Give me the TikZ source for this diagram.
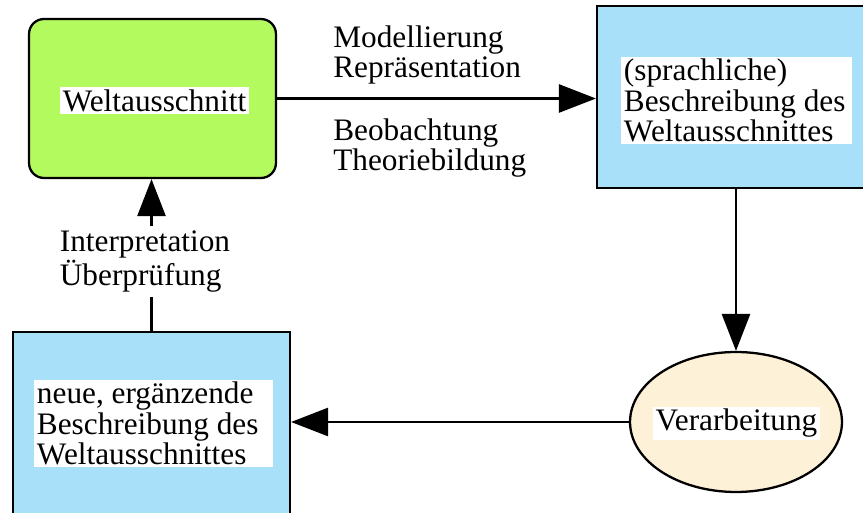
\documentclass[tikz,border=0pt]{standalone}
\usepackage{fontspec}
\setmainfont{Liberation Serif}
\usetikzlibrary{arrows.meta,shapes.geometric}
\definecolor{weltgreen}{RGB}{178,250,94}
\definecolor{beschrblue}{RGB}{168,224,250}
\definecolor{verarbcream}{RGB}{253,242,215}
\tikzset{
  shapebox/.style={draw, line width=1.3pt},
  textbg/.style={fill=white, inner sep=1.5pt, align=flush left},
  flow/.style={-{Triangle[length=21pt,width=16pt]}, line width=1.2pt}
}
\begin{document}
\begin{tikzpicture}[x=0.02cm, y=-0.02cm, font=\fontsize{17.8}{17.2}\selectfont]
        \useasboundingbox (0,0) rectangle (863,513);
        \clip (0,0) rectangle (863,513);
        % shapes
            \node[shapebox, fill=weltgreen, rounded corners=0.3cm, minimum width=4.94cm, minimum height=3.18cm] (welt) at (152.5,98.5) {};
            \node[shapebox, fill=beschrblue, minimum width=6.06cm, minimum height=3.64cm] (beschr) at (748.5,97) {};
            \node[shapebox, fill=beschrblue, minimum width=5.54cm, minimum height=4.56cm] (neu) at (151.5,446) {};
            \node[shapebox, fill=verarbcream, ellipse, minimum width=4.24cm, minimum height=2.8cm] (verarb) at (736,422) {};
        % texts in the shapes
            \node[textbg] (weltlabel) at (154.5,100.5) {Weltausschnitt};
            \node[textbg, anchor=west, text width=4.5cm] (beschrlabel) at (621,100.5) {(sprachliche)\\Beschreibung des\\Weltausschnittes};
            \node[textbg, anchor=west, text width=4.66cm] (neulabel) at (34,423.5) {neue, ergänzende\\Beschreibung des\\Weltausschnittes};
            \node[textbg] (verarblabel) at (736.5,423.5) {Verarbeitung};
        % arrows
            \draw[flow] (welt.east) -- (welt.east -| beschr.west);
            \draw[flow] (verarb.north |- beschr.south) -- (verarb.north);
            \draw[flow] (verarb.west) -- (verarb.west -| neu.east);
            \draw[flow] (neu.north) -- (neu.north |- welt.south);
        % arrow labels
            \node[align=left, anchor=west, inner sep=0pt] (modell) at (333,55) {Modellierung\\Repräsentation};
            \node[align=left, anchor=west, inner sep=0pt] (beob) at (333,148) {Beobachtung\\Theoriebildung};
            \node[textbg, inner sep=3pt] (interp) at (145,261.5) {Interpretation\\Überprüfung};
\end{tikzpicture}
\end{document}
